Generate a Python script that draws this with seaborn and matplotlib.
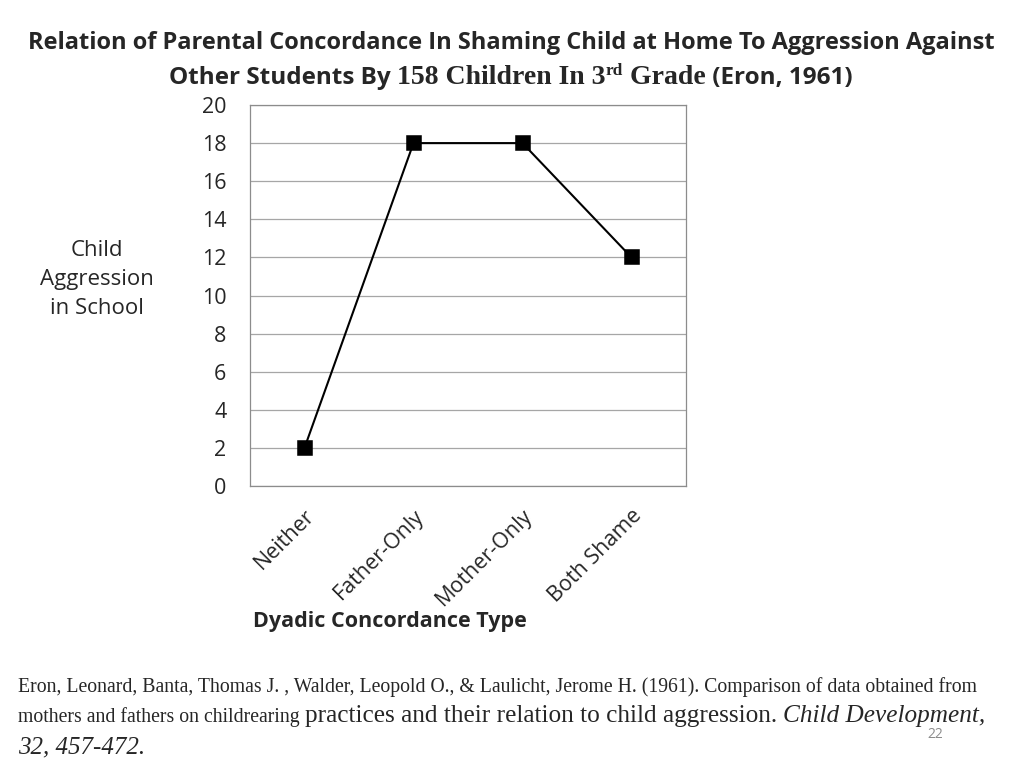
import pandas as pd
import matplotlib
matplotlib.use('Agg')
import matplotlib.pyplot as plt
import seaborn as sns

sns.set_style('white')
plt.rcParams['font.family'] = ['Open Sans', 'DejaVu Sans']

# data
concordance_types = ['Neither', 'Father-Only', 'Mother-Only', 'Both Shame']
aggression_scores = [2, 18, 18, 12]
y_ticks = [0, 2, 4, 6, 8, 10, 12, 14, 16, 18, 20]

df = pd.DataFrame({'type': concordance_types, 'aggression': aggression_scores})

GRAY = '#8c8c8c'
SANS = ['Open Sans', 'DejaVu Sans']
SERIF = ['Liberation Serif', 'DejaVu Serif']

fig = plt.figure(figsize=(10.24, 7.68), dpi=100)
ax = fig.add_axes([250 / 1024, 1 - 486 / 768, 436 / 1024, 381 / 768])

sns.pointplot(data=df, x='type', y='aggression', order=concordance_types,
              color='black', markers='s', markersize=9.5, linewidth=1.5,
              ax=ax)

ax.set_xlim(-0.5, 3.5)
ax.set_ylim(0, 20)
ax.set_yticks(y_ticks)
ax.set_yticklabels([str(t) for t in y_ticks], fontsize=15.5, family=SANS)
ax.yaxis.grid(True, color='#a6a6a6', linewidth=0.9)
ax.set_axisbelow(True)

ax.set_xticks(range(len(concordance_types)))
ax.set_xticklabels(concordance_types, rotation=45, ha='right',
                   rotation_mode='anchor', fontsize=15.5, family=SANS)
ax.tick_params(axis='x', which='major', length=0, pad=14)
ax.set_xticks([-0.5, 0.5, 1.5, 2.5, 3.5], minor=True)
ax.tick_params(axis='x', which='minor', length=6, color=GRAY, width=0.9)
ax.tick_params(axis='y', length=6, color=GRAY, width=0.9, pad=11)

for sp in ax.spines.values():
    sp.set_visible(True)
    sp.set_color(GRAY)
    sp.set_linewidth(0.9)

ax.set_xlabel('')
ax.set_ylabel('')

fig.text(97 / 1024, 1 - 280 / 768, 'Child\nAggression\nin School',
         ha='center', va='center', fontsize=16, family=SANS, linespacing=1.5)
fig.text(390 / 1024, 1 - 622 / 768, 'Dyadic Concordance Type',
         ha='center', va='center', fontsize=15.5, fontweight='bold', family=SANS)

renderer = fig.canvas.get_renderer()


def put_runs(runs, y_px, x_px=None, center_px=None):
    """Place a list of (text, kwargs, rise_px) pieces one after another."""
    arts = []
    for txt, kw, rise in runs:
        t = fig.text(0, 0, txt, va='baseline', ha='left', **kw)
        arts.append((t, rise))
    widths = [t.get_window_extent(renderer).width for t, _ in arts]
    total = sum(widths)
    x = x_px if x_px is not None else center_px - total / 2
    for (t, rise), w in zip(arts, widths):
        t.set_position((x / 1024, 1 - (y_px - rise) / 768))
        x += w


# title
put_runs([('Relation of Parental Concordance In Shaming Child at Home To Aggression Against',
           dict(fontsize=17, fontweight='bold', family=SANS), 0)],
         y_px=49, center_px=511)
put_runs([('Other Students By ', dict(fontsize=17.5, fontweight='bold', family=SANS), 0),
          ('158 Children In 3', dict(fontsize=20, fontweight='bold', family=SERIF), 0),
          ('rd', dict(fontsize=12.5, fontweight='bold', family=SERIF), 9),
          (' Grade', dict(fontsize=20, fontweight='bold', family=SERIF), 0),
          (' (Eron, 1961)', dict(fontsize=17.5, fontweight='bold', family=SANS), 0)],
         y_px=84, center_px=511)

# citation
put_runs([('Eron, Leonard, Banta, Thomas J. , Walder, Leopold O., & Laulicht, Jerome H. (1961). '
           'Comparison of data obtained from', dict(fontsize=14.2, family=SERIF), 0)],
         y_px=692, x_px=18)
put_runs([('mothers and fathers on childrearing ', dict(fontsize=14.2, family=SERIF), 0),
          ('practices and their relation to child aggression. ', dict(fontsize=18.2, family=SERIF), 0),
          ('Child Development,', dict(fontsize=18.2, family=SERIF, style='italic'), 0)],
         y_px=722, x_px=18)
put_runs([('32, 457-472.', dict(fontsize=18, family=SERIF, style='italic'), 0)],
         y_px=753, x_px=18)
fig.text(935 / 1024, 1 - 735 / 768, '22', ha='center', va='center',
         fontsize=10, color='#8c8c8c', family=SANS)

fig.savefig('out.png', dpi=100)
